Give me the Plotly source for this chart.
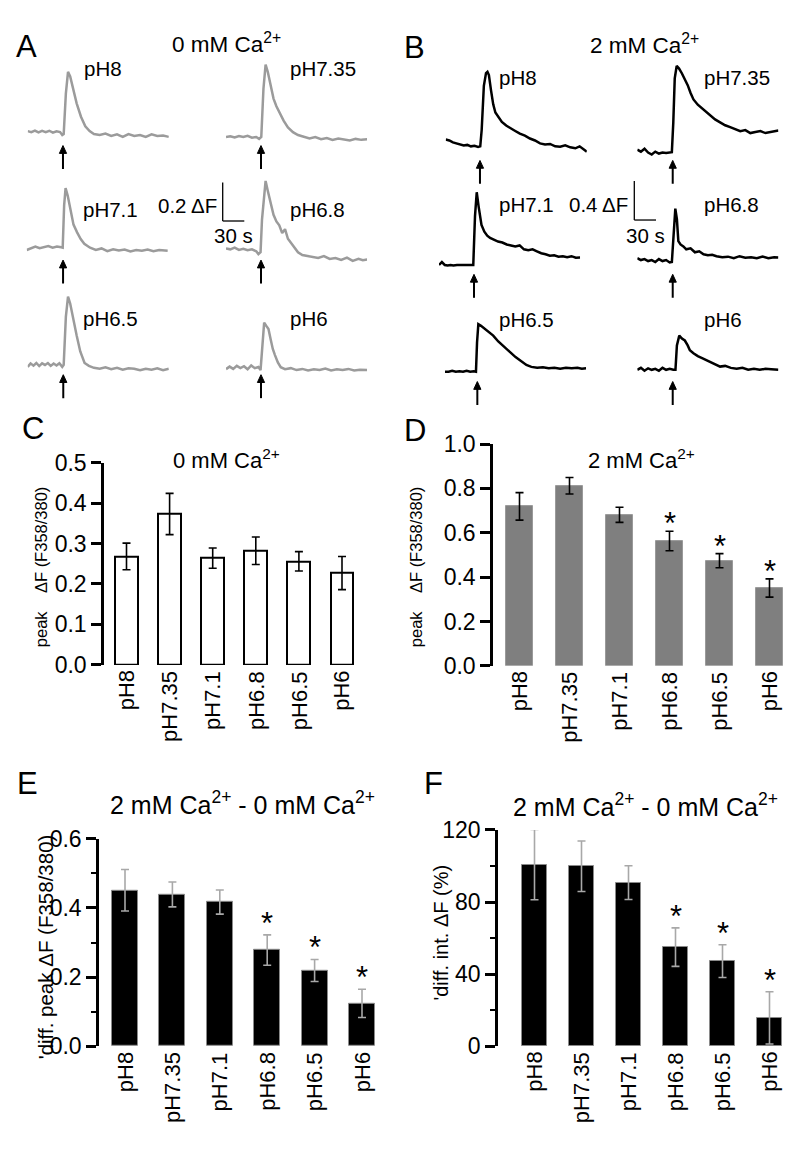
import plotly.graph_objects as go

W, H = 800, 1149
OFF = 8  # browser body margin on every side
FW, FH = W - 2 * OFF, H - 2 * OFF
FONT = "Arial, Liberation Sans, sans-serif"

def PX(p):
    return (p - OFF) / FW

def PY(p):
    return 1 - (p - OFF) / FH

# ---------------- bar chart data ----------------
categories = ["pH8", "pH7.35", "pH7.1", "pH6.8", "pH6.5", "pH6"]
c_mean = [0.268, 0.373, 0.264, 0.282, 0.256, 0.227]
c_err = [0.033, 0.051, 0.025, 0.034, 0.024, 0.041]
d_mean = [0.719, 0.812, 0.681, 0.563, 0.474, 0.351]
d_err = [0.062, 0.037, 0.034, 0.044, 0.032, 0.041]
e_mean = [0.451, 0.439, 0.417, 0.278, 0.219, 0.124]
e_err = [0.060, 0.036, 0.035, 0.044, 0.032, 0.041]
f_mean = [100.8, 99.9, 90.8, 55.0, 47.2, 15.7]
f_err = [19.5, 14.0, 9.4, 10.7, 9.1, 14.5]
d_sig = [False, False, False, True, True, True]
e_sig = [False, False, False, True, True, True]
f_sig = [False, False, False, True, True, True]

# ---------------- trace data (time s, dF) ----------------
trace_labels = ["pH8", "pH7.35", "pH7.1", "pH6.8", "pH6.5", "pH6"]

a_ph8_t = [0,5,10,15,20,25,30,35,40,45,48,50,53,56,59,63,68,74,80,86,92,100,108,116,124,132,140,148,156,164,172,180,188,196]
a_ph8_v = [0.005,0.0,0.008,-0.002,0.006,0.0,0.007,-0.003,0.004,0.0,-0.015,-0.01,0.2,0.314,0.29,0.22,0.15,0.08,0.03,0.005,-0.01,-0.015,-0.008,-0.02,-0.012,-0.025,-0.01,-0.02,-0.015,-0.025,-0.012,-0.02,-0.018,-0.025]
a_ph735_t = [0,6,12,18,24,30,36,42,46,49,52,55,58,62,66,70,75,80,86,93,100,108,116,124,132,140,148,156,164,172,180,188,196]
a_ph735_v = [0.0,0.004,-0.003,0.005,0.0,0.006,-0.004,0.0,-0.01,0.0,0.25,0.377,0.34,0.26,0.2,0.16,0.12,0.085,0.05,0.025,0.01,0.0,-0.008,0.0,-0.012,-0.005,-0.015,-0.008,-0.012,-0.018,-0.01,-0.015,-0.012]
a_ph71_t = [0,6,12,18,24,30,36,42,48,50,52,54,57,61,65,70,75,80,88,96,104,112,120,128,136,144,152,160,168,176,184,196]
a_ph71_v = [-0.012,-0.002,0.006,-0.003,0.004,0.008,0.0,0.006,0.002,0.0,0.22,0.31,0.27,0.19,0.12,0.08,0.045,0.02,0.0,-0.012,-0.004,-0.018,-0.008,-0.015,-0.01,-0.02,-0.012,-0.016,-0.01,-0.018,-0.012,-0.016]
a_ph68_t = [0,6,12,18,24,30,36,42,45,48,50,53,55,58,62,66,70,74,78,82,86,90,95,100,106,112,120,128,136,144,152,160,168,176,184,190,196]
a_ph68_v = [0.0,-0.005,0.004,-0.008,-0.002,-0.01,-0.005,-0.015,-0.03,-0.02,0.15,0.3,0.351,0.3,0.23,0.175,0.14,0.12,0.08,0.1,0.05,0.03,0.0,-0.02,-0.035,-0.04,-0.045,-0.05,-0.04,-0.055,-0.05,-0.06,-0.048,-0.065,-0.055,-0.062,-0.058]
a_ph65_t = [0,4,8,12,16,20,24,28,32,36,40,44,48,50,53,56,59,63,68,73,79,85,92,100,108,116,124,132,140,148,156,164,172,180,188,196]
a_ph65_v = [-0.01,0.008,-0.004,0.01,-0.006,0.008,0.0,0.01,-0.005,0.007,-0.003,0.009,-0.01,0.0,0.25,0.356,0.32,0.24,0.153,0.07,0.01,-0.005,-0.015,-0.02,-0.012,-0.022,-0.015,-0.025,-0.018,-0.02,-0.028,-0.02,-0.025,-0.018,-0.028,-0.02]
a_ph6_t = [0,5,10,15,20,25,30,35,40,45,48,50,53,56,59,62,65,68,72,76,82,90,98,106,114,122,130,138,146,154,162,170,178,186,196]
a_ph6_v = [-0.005,0.008,-0.004,0.012,0.0,0.01,-0.006,0.014,0.0,0.006,-0.01,0.1,0.237,0.22,0.204,0.15,0.1,0.068,0.03,0.005,-0.005,0.0,-0.01,-0.004,-0.012,-0.006,-0.01,-0.002,-0.012,-0.006,-0.01,-0.004,-0.012,-0.008,-0.01]

b_ph8_t = [0,5,10,15,20,25,30,35,40,45,48,50,53,56,58,60,63,66,69,73,78,84,90,96,103,110,117,124,131,138,145,152,159,166,173,180,186,191,196]
b_ph8_v = [0.0,-0.01,-0.03,-0.04,-0.05,-0.06,-0.055,-0.07,-0.065,-0.075,-0.07,0.1,0.55,0.68,0.693,0.66,0.5,0.36,0.276,0.23,0.18,0.143,0.12,0.09,0.06,0.04,0.01,-0.01,-0.04,-0.05,-0.045,-0.07,-0.074,-0.06,-0.08,-0.09,-0.07,-0.1,-0.124]
b_ph735_t = [0,5,10,15,20,25,30,35,40,45,48,50,52,54.7,58,62,66,70,74,78,84,90,96,102,108,115,122,129,136,143,150,157,164,171,178,185,191,196]
b_ph735_v = [0.02,0.0,0.03,-0.01,-0.03,0.0,-0.02,-0.01,-0.015,-0.01,-0.005,0.3,0.75,0.877,0.85,0.8,0.74,0.68,0.6,0.534,0.48,0.44,0.4,0.36,0.33,0.3,0.27,0.25,0.23,0.21,0.22,0.19,0.2,0.21,0.19,0.2,0.215,0.217]
b_ph71_t = [0,4,8,12,16,20,25,30,35,40,45,47.6,50,52.4,55,59,63,67,71,76,82,88,94,100,106,112,118,124,130,136,142,148,154,160,166,172,178,184,190,196]
b_ph71_v = [0.0,0.03,0.0,-0.005,0.0,-0.005,0.0,0.0,-0.005,0.0,0.0,0.0,0.5,0.744,0.6,0.41,0.34,0.3,0.277,0.26,0.24,0.23,0.21,0.2,0.19,0.2,0.16,0.15,0.16,0.14,0.12,0.11,0.094,0.1,0.085,0.09,0.08,0.09,0.075,0.077]
b_ph68_t = [0,5,10,15,20,25,30,35,40,45,48,50,52.8,55,57,60,64,68,74,80,86,92,98,104,110,118,126,134,142,150,158,166,174,182,190,196]
b_ph68_v = [0.0,-0.02,-0.01,-0.03,-0.02,-0.04,-0.01,-0.03,-0.02,-0.045,-0.04,0.2,0.507,0.4,0.174,0.14,0.12,0.09,0.1,0.06,0.07,0.04,0.03,0.035,0.02,0.01,0.015,0.0,0.02,0.005,0.01,0.0,0.015,0.0,0.01,0.007]
b_ph65_t = [0,5,10,15,20,25,30,35,40,43,44.5,46.3,50,55,60,67,74,81,90,98,106,113,120,128,136,144,152,160,168,176,184,190,196]
b_ph65_v = [0.0,0.0,0.01,0.0,0.005,0.0,0.01,0.0,0.005,0.0,0.3,0.487,0.47,0.44,0.41,0.37,0.31,0.26,0.203,0.15,0.11,0.07,0.05,0.04,0.045,0.035,0.04,0.03,0.04,0.035,0.04,0.03,0.037]
b_ph6_t = [0,5,10,15,20,25,30,35,40,45,50,53,55,58.3,62,66,70,73,78,84,90,96,102,108,115,122,130,138,146,154,162,170,178,186,196]
b_ph6_v = [0.0,0.02,-0.01,0.015,0.0,0.01,-0.01,0.02,0.0,0.01,0.0,0.0,0.25,0.35,0.32,0.3,0.25,0.2,0.17,0.14,0.12,0.1,0.08,0.06,0.033,0.04,0.02,0.01,0.02,0.0,0.01,0.0,0.01,0.005,0.0]

a_stim = [49.0, 48.6, 50.5, 48.6, 49.4, 48.6]
b_stim = [47.6, 49.2, 48.6, 49.2, 44.9, 49.2]

a_series = [(a_ph8_t, a_ph8_v), (a_ph735_t, a_ph735_v), (a_ph71_t, a_ph71_v),
            (a_ph68_t, a_ph68_v), (a_ph65_t, a_ph65_v), (a_ph6_t, a_ph6_v)]
b_series = [(b_ph8_t, b_ph8_v), (b_ph735_t, b_ph735_v), (b_ph71_t, b_ph71_v),
            (b_ph68_t, b_ph68_v), (b_ph65_t, b_ph65_v), (b_ph6_t, b_ph6_v)]

# ---------------- layout geometry (pixels) ----------------
# (start_x_px, baseline_y_px, label_x_px, label_y_px, arrow_tip_y_px)
a_geom = [(27.7, 121.7, 81.7, 57, 135.5), (226, 126.7, 288.3, 57, 135.5),
          (26.7, 240.0, 81, 201, 252.7), (226, 240.7, 288, 201, 252.7),
          (27.7, 360.0, 81, 312, 370), (226, 363.3, 288, 312, 370)]
b_geom = [(445.7, 129.3, 496.7, 66, 150.7), (637.3, 141.7, 701.7, 66, 150.7),
          (439, 257.7, 496.7, 196, 267.3), (637.3, 250.7, 701.7, 196, 267.3),
          (445, 367.0, 496.7, 314, 377), (637.3, 365.0, 701.7, 314, 377)]
T_RANGE = 196.0
PX_PER_S = 0.72
A_SCALE = 196.5   # px per dF unit
B_SCALE = 100.0
A_YR = (-0.1, 0.4)
B_YR = (-0.2, 0.95)
ARROW_LEN = 24
HEAD_LEN = 8
HEAD_HALF = 3.6

fig = go.Figure()
layout = {}
annotations = []
shapes = []
ax_n = [0]

def new_axes():
    ax_n[0] += 1
    n = ax_n[0]
    xa = "xaxis" if n == 1 else f"xaxis{n}"
    ya = "yaxis" if n == 1 else f"yaxis{n}"
    xr = "x" if n == 1 else f"x{n}"
    yr = "y" if n == 1 else f"y{n}"
    return xa, ya, xr, yr

def ann(text, x, y, size, xanchor="center", yanchor="middle", angle=0, **kw):
    annotations.append(dict(text=text, x=PX(x), y=PY(y), xref="paper", yref="paper",
                            showarrow=False, xanchor=xanchor, yanchor=yanchor,
                            textangle=angle, font=dict(size=size, family=FONT, color="black"), **kw))

# ---------------- bar panels ----------------
def bar_panel(means, errs, sig, axis_px, first_px, step_px, ypx, yrange, width, fill, edge,
              edgew, errcolor, dtick, fmt, minor_dtick=None, star_shift=-6):
    xa, ya, xr, yr = new_axes()
    right_px = min(W - OFF, first_px + 5.5 * step_px)
    r0 = -(first_px - axis_px) / step_px
    r1 = (right_px - first_px) / step_px
    fig.add_trace(go.Bar(x=categories, y=means, width=width, xaxis=xr, yaxis=yr,
                         marker=dict(color=fill, line=dict(color=edge, width=edgew)),
                         error_y=dict(type="data", array=errs, visible=True, color=errcolor,
                                      thickness=1.6, width=4)))
    layout[xa] = dict(domain=[PX(axis_px), PX(right_px)], anchor=yr, range=[r0, r1],
                      showline=False, ticks="", showgrid=False, zeroline=False,
                      showticklabels=False, type="category")
    yd = dict(domain=[PY(ypx[1]), PY(ypx[0])], anchor=xr, range=list(yrange),
              showline=True, linecolor="black", linewidth=2.5, ticks="outside",
              ticklen=10, tickwidth=2.5, tickcolor="black", dtick=dtick, tick0=0,
              tickformat=fmt, showgrid=False, zeroline=False,
              tickfont=dict(size=23, family=FONT, color="black"))
    if minor_dtick:
        yd["minor"] = dict(ticks="outside", ticklen=5, tickwidth=2, tickcolor="black",
                           dtick=minor_dtick, tick0=0, showgrid=False)
    layout[ya] = yd
    # category labels below the bars (rotated)
    for c in categories:
        annotations.append(dict(text=c, x=c, y=PY(ypx[1] + 4), xref=xr, yref="paper",
                                showarrow=False, textangle=-90, xanchor="center",
                                yanchor="top", font=dict(size=22, family=FONT, color="black")))
    for c, m, e, s in zip(categories, means, errs, sig):
        if s:
            annotations.append(dict(text="*", x=c, y=m + e, xref=xr, yref=yr, showarrow=False,
                                    xanchor="center", yanchor="bottom", yshift=star_shift,
                                    font=dict(size=31, family=FONT, color="black")))

bar_panel(c_mean, c_err, [False] * 6, 104, 126.5, 43.1, (460, 667), (0, 0.5), 0.53,
          "white", "black", 2, "black", 0.1, ".1f")
bar_panel(d_mean, d_err, d_sig, 493, 519.5, 50.0, (441, 668), (0, 1.0), 0.54,
          "#7f7f7f", "#9a9a9a", 1, "black", 0.2, ".1f", star_shift=-12)
bar_panel(e_mean, e_err, e_sig, 99, 125, 47.4, (845, 1057.3), (0, 0.6), 0.55,
          "black", "#8a8a8a", 1, "#a8a8a8", 0.2, ".1f", minor_dtick=0.1, star_shift=-8)
bar_panel(f_mean, f_err, f_sig, 498, 534.5, 47.0, (836, 1057.3), (0, 120), 0.52,
          "black", "#8a8a8a", 1, "#a8a8a8", 40, "d", minor_dtick=20, star_shift=-8)

# ---------------- trace panels ----------------
def trace_panel(series, geom, stims, color, scale, yr_):
    for (t, v), (sx, base, lx, ly, tip), st, lab in zip(series, geom, stims, trace_labels):
        xa, ya, xr, yr = new_axes()
        fig.add_trace(go.Scatter(x=t, y=v, mode="lines", xaxis=xr, yaxis=yr,
                                 line=dict(color=color, width=2.5), hoverinfo="skip"))
        bottom = base - yr_[0] * scale
        top = bottom - (yr_[1] - yr_[0]) * scale
        layout[xa] = dict(domain=[PX(sx), PX(sx + T_RANGE * PX_PER_S)], anchor=yr,
                          range=[0, T_RANGE], visible=False)
        layout[ya] = dict(domain=[PY(bottom), PY(top)], anchor=xr, range=list(yr_),
                          visible=False)
        # stimulus arrow (shaft + head) at the stimulus time
        shapes.append(dict(type="line", xref=xr, yref="paper", x0=st, x1=st,
                           y0=PY(tip + HEAD_LEN - 1), y1=PY(tip + ARROW_LEN),
                           line=dict(color="black", width=2)))
        hw = HEAD_HALF / PX_PER_S
        path = (f"M {st - hw},{PY(tip + HEAD_LEN)} L {st},{PY(tip)} "
                f"L {st + hw},{PY(tip + HEAD_LEN)} Z")
        shapes.append(dict(type="path", xref=xr, yref="paper", path=path,
                           fillcolor="black", line=dict(color="black", width=1)))
        ann(lab, lx, ly, 20.5, xanchor="left")

trace_panel(a_series, a_geom, a_stim, "#9b9b9b", A_SCALE, A_YR)
trace_panel(b_series, b_geom, b_stim, "black", B_SCALE, B_YR)

# scale bars
for (vx, vy0, vy1, hx1) in [(222.7, 173.3, 212.7, 244.3), (634.3, 171.7, 211.7, 656)]:
    shapes.append(dict(type="line", xref="paper", yref="paper", x0=PX(vx), x1=PX(vx),
                       y0=PY(vy0), y1=PY(vy1), line=dict(color="black", width=1.3)))
    shapes.append(dict(type="line", xref="paper", yref="paper", x0=PX(vx), x1=PX(hx1),
                       y0=PY(vy1), y1=PY(vy1), line=dict(color="black", width=1.3)))
ann("0.2 ΔF", 218.5, 197, 20.5, xanchor="right")
ann("30 s", 233.3, 228, 20.5)
ann("0.4 ΔF", 630, 196, 20.5, xanchor="right")
ann("30 s", 645, 228, 20.5)

# panel letters
for L, x, y in [("A", 26.5, 34), ("B", 414.5, 35), ("C", 32.5, 425), ("D", 415, 427),
                ("E", 27, 788), ("F", 433, 788)]:
    ann(L, x, y, 31)

# titles
ann("0 mM Ca<sup>2+</sup>", 226, 31, 22.5)
ann("2 mM Ca<sup>2+</sup>", 644, 32, 22.5)
ann("0 mM Ca<sup>2+</sup>", 226.5, 456, 22)
ann("2 mM Ca<sup>2+</sup>", 641.7, 456, 22)
ann("2 mM Ca<sup>2+</sup> - 0 mM Ca<sup>2+</sup>", 242, 808, 25)
ann("2 mM Ca<sup>2+</sup> - 0 mM Ca<sup>2+</sup>", 645, 810, 25)

# y axis titles
NB = "\u00a0"
peak_lab = "peak" + NB * 4 + "ΔF (F358/380)"
ann(peak_lab, 41, 567, 16.5, angle=-90)
ann(peak_lab, 416, 567, 16.5, angle=-90)
ann("'diff. peak ΔF (F358/380)", 45, 956, 20.5, angle=-90)
ann("'diff. int. ΔF (%)", 441, 941, 20, angle=-90)

fig.update_layout(width=FW, height=FH, autosize=False,
                  margin=dict(l=0, r=0, t=0, b=0, pad=0),
                  paper_bgcolor="white", plot_bgcolor="rgba(0,0,0,0)",
                  showlegend=False, bargap=0,
                  font=dict(family=FONT, color="black"),
                  annotations=annotations, shapes=shapes, **layout)

fig.write_html("out.html")
